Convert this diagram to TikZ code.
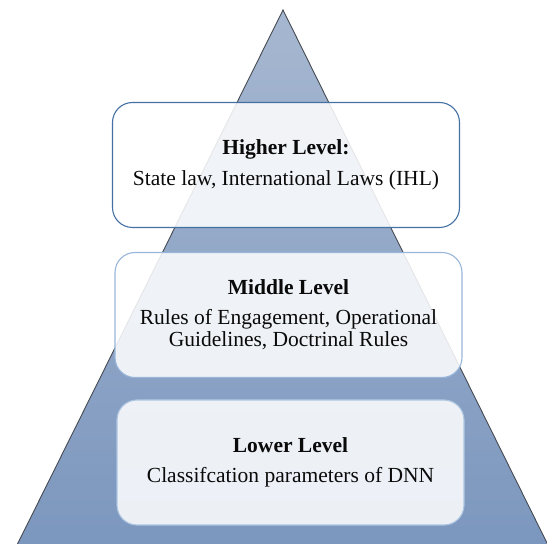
\documentclass[tikz,border=0pt]{standalone}
\usepackage{fontspec}
\setmainfont{Liberation Serif}
\usepackage{tikz}
\usetikzlibrary{positioning}
\definecolor{pyrtop}{RGB}{166,183,208}
\definecolor{pyrbot}{RGB}{124,151,190}
\definecolor{pyredge}{RGB}{70,74,82}
\definecolor{edgedark}{RGB}{68,112,163}
\definecolor{edgelight}{RGB}{152,182,218}
\definecolor{ink}{RGB}{10,10,10}
\tikzset{
  levelbox/.style={draw,line width=1.1pt,fill=white,fill opacity=0.86,
    text opacity=1,rounded corners=20pt,minimum width=347pt,
    minimum height=125pt,align=center,text=ink,
    font=\fontsize{21.5}{23.5}\selectfont}
}
\begin{document}
\begin{tikzpicture}[x=1pt,y=1pt]
    \useasboundingbox (0,0) rectangle (547,544);
    % pyramid
    \begin{scope}
      \clip (0,0) rectangle (547,544);
      \shade[top color=pyrtop,bottom color=pyrbot,draw=pyredge,line width=0.9pt]
        (283,534) -- (548,-1) -- (17,-1) -- cycle;
    \end{scope}
    % levels
    \node[levelbox,draw=edgedark] (higher) at (286,379)
      {\textbf{Higher Level:}\\[8pt]State law, International Laws (IHL)};
    \node[levelbox,draw=edgelight] (middle) at (288.5,229)
      {\textbf{Middle Level}\\[6pt]Rules of Engagement, Operational\\[-1pt]Guidelines, Doctrinal Rules};
    \node[levelbox,draw=edgelight!80!white] (lower) at (290.5,81.5)
      {\textbf{Lower Level}\\[6pt]Classifcation parameters of DNN};
  \end{tikzpicture}
\end{document}
